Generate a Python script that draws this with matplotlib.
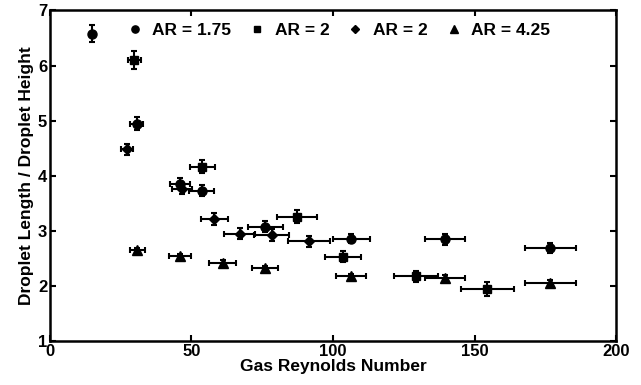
import matplotlib
matplotlib.use("Agg")
import matplotlib.pyplot as plt

plt.rcParams['font.family'] = ['Liberation Sans', 'DejaVu Sans']
plt.rcParams['font.weight'] = 'bold'

# AR = 1.75 (circles)
c_x = [14.7, 30.6, 45.9, 53.6, 76.0, 106.4, 139.6, 176.7]
c_y = [6.58, 4.95, 3.86, 3.73, 3.08, 2.86, 2.85, 2.70]
c_xerr = [0.0, 2.4, 3.5, 4.5, 6.2, 6.5, 7.0, 9.0]
c_yerr = [0.15, 0.11, 0.1, 0.1, 0.1, 0.08, 0.1, 0.09]

# AR = 2 (squares)
s_x = [29.8, 53.8, 87.2, 103.6, 129.3, 154.5]
s_y = [6.10, 4.17, 3.26, 2.54, 2.18, 1.95]
s_xerr = [2.4, 4.5, 7.0, 6.3, 7.8, 9.4]
s_yerr = [0.17, 0.12, 0.12, 0.1, 0.1, 0.12]

# AR = 2 (diamonds)
d_x = [27.3, 46.6, 58.0, 67.1, 78.3, 91.6]
d_y = [4.48, 3.77, 3.22, 2.95, 2.93, 2.82]
d_xerr = [2.2, 3.5, 4.8, 5.5, 6.2, 7.4]
d_yerr = [0.1, 0.1, 0.1, 0.1, 0.1, 0.1]

# AR = 4.25 (triangles)
t_x = [30.9, 45.9, 61.0, 76.0, 106.4, 139.6, 176.7]
t_y = [2.66, 2.55, 2.43, 2.33, 2.19, 2.15, 2.06]
t_xerr = [2.8, 3.8, 4.9, 4.6, 5.3, 7.0, 9.0]
t_yerr = [0.04, 0.04, 0.04, 0.04, 0.04, 0.05, 0.05]

labels = ["AR = 1.75", "AR = 2", "AR = 2", "AR = 4.25"]

fig = plt.figure(figsize=(6.41, 3.85), dpi=100)
ax = fig.add_axes([0.078, 0.113, 0.883, 0.86])

series = [
    (c_x, c_y, c_xerr, c_yerr, 'o', 6.5),
    (s_x, s_y, s_xerr, s_yerr, 's', 6),
    (d_x, d_y, d_xerr, d_yerr, 'D', 5),
    (t_x, t_y, t_xerr, t_yerr, '^', 6.5),
]
handles = []
for (x, y, xe, ye, m, ms), lab in zip(series, labels):
    ax.errorbar(x, y, xerr=xe, yerr=ye, fmt=m, color='black', ms=ms,
                elinewidth=1.5, capsize=2.5, capthick=1.5)
    h, = ax.plot([], [], m, color='black', ms=ms * 0.8, label=lab)
    handles.append(h)

ax.set_xlim(0, 200)
ax.set_ylim(1, 7)
ax.set_xticks([0, 50, 100, 150, 200])
ax.set_yticks([1, 2, 3, 4, 5, 6, 7])
ax.tick_params(direction='in', top=True, right=True, length=4, width=1.5,
               labelsize=12, pad=2)
for sp in ax.spines.values():
    sp.set_linewidth(1.8)

ax.set_xlabel("Gas Reynolds Number", fontsize=12.5, fontweight='bold', labelpad=0)
ax.set_ylabel("Droplet Length / Droplet Height", fontsize=12.5, fontweight='bold', labelpad=3)

ax.legend(handles=handles, ncol=4, frameon=False, loc='upper center',
          bbox_to_anchor=(0.509, 1.01), fontsize=12.5, handletextpad=0.5,
          columnspacing=1.0, handlelength=1.0)

fig.savefig("out.png", dpi=100)
